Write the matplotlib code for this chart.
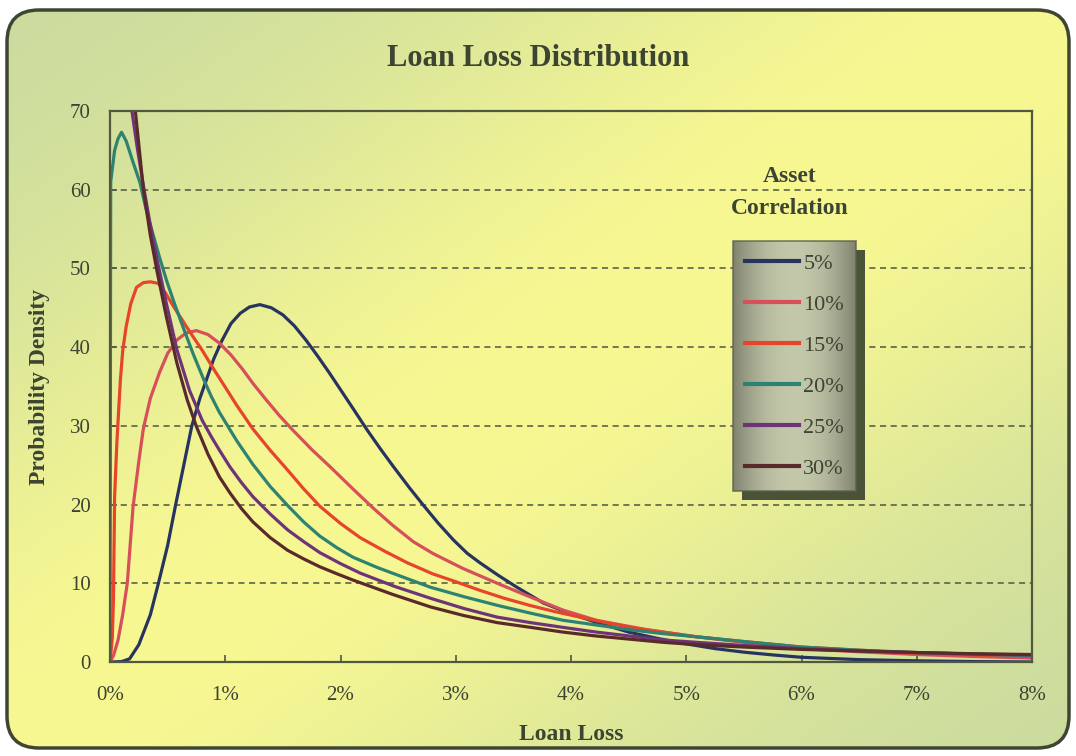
import numpy as np
import matplotlib
matplotlib.use('Agg')
from matplotlib import pyplot as plt
from matplotlib.patches import FancyBboxPatch, Rectangle

plt.rcParams['font.family'] = ['Liberation Serif', 'DejaVu Serif']

# loan loss (%) vs probability density, one curve per asset correlation
x_05 = [0, 0.1, 0.17, 0.25, 0.35, 0.42, 0.5, 0.57, 0.64, 0.71, 0.78, 0.84, 0.9, 0.97, 1.05, 1.13,
        1.21, 1.3, 1.4, 1.5, 1.6, 1.7, 1.8, 1.9, 2.0, 2.1, 2.23, 2.35, 2.46, 2.6, 2.72, 2.85, 2.98,
        3.1, 3.21, 3.37, 3.53, 3.76, 4.0, 4.25, 4.5, 4.75, 5.0, 5.25, 5.5, 5.75, 6.0, 6.5, 7.0, 7.5, 8.0]
y_05 = [0, 0.05, 0.4, 2.2, 6.0, 10, 14.8, 20, 25, 30, 33.5, 36, 38.5, 40.8, 43, 44.3,
        45.1, 45.4, 45.0, 44.1, 42.7, 40.9, 38.9, 36.8, 34.6, 32.4, 29.5, 27.0, 24.8, 22.1, 19.9, 17.6, 15.5,
        13.8, 12.6, 11.0, 9.5, 7.5, 6.1, 4.9, 3.8, 3.0, 2.3, 1.7, 1.25, 0.9, 0.6, 0.3, 0.15, 0.05, 0.0]

x_10 = [0, 0.03, 0.07, 0.11, 0.15, 0.2, 0.25, 0.29, 0.35, 0.43, 0.5, 0.58, 0.66, 0.75, 0.85, 0.95,
        1.05, 1.15, 1.24, 1.35, 1.47, 1.59, 1.75, 1.91, 2.1, 2.28, 2.45, 2.63, 2.8, 3.06, 3.36, 3.64,
        3.93, 4.22, 4.66, 5.09, 5.5, 6.0, 6.5, 7.0, 7.5, 8.0]
y_10 = [0, 0.8, 2.8, 6, 10, 19.7, 25.5, 29.7, 33.5, 36.8, 39.2, 40.9, 41.8, 42.1, 41.6, 40.5,
        39.0, 37.2, 35.4, 33.4, 31.3, 29.4, 27.0, 24.8, 22.1, 19.6, 17.4, 15.3, 13.8, 11.9, 10.0, 8.3,
        6.6, 5.3, 4.1, 3.2, 2.5, 1.7, 1.3, 0.95, 0.7, 0.5]

x_15 = [0, 0.02, 0.03, 0.04, 0.06, 0.09, 0.11, 0.14, 0.18, 0.23, 0.29, 0.35, 0.42, 0.48, 0.55, 0.62,
        0.69, 0.8, 0.9, 0.97, 1.1, 1.24, 1.39, 1.54, 1.68, 1.82, 2.0, 2.17, 2.38, 2.58, 2.8, 3.0,
        3.21, 3.42, 3.64, 3.86, 4.08, 4.3, 4.51, 4.8, 5.09, 5.5, 6.0, 6.5, 7.0, 7.5, 8.0]
y_15 = [0, 3, 8, 21, 28, 35.8, 39.5, 42.6, 45.5, 47.6, 48.2, 48.3, 48.1, 46.9, 45.2, 43.6,
        42.0, 39.6, 37.2, 35.6, 32.6, 29.6, 26.9, 24.4, 22.0, 19.8, 17.6, 15.8, 14.1, 12.6, 11.2, 10.2,
        9.1, 8.1, 7.2, 6.4, 5.7, 5.0, 4.4, 3.8, 3.2, 2.6, 1.9, 1.5, 1.1, 0.9, 0.7]

x_20 = [0, 0.003, 0.006, 0.04, 0.07, 0.1, 0.14, 0.2, 0.26, 0.31, 0.37, 0.43, 0.49, 0.56, 0.63, 0.72,
        0.81, 0.88, 0.95, 1.1, 1.24, 1.39, 1.54, 1.68, 1.82, 1.97, 2.11, 2.32, 2.54, 2.78, 3.07, 3.36,
        3.65, 3.93, 4.22, 4.51, 4.8, 5.09, 5.5, 6.0, 6.5, 7.0, 7.5, 8.0]
y_20 = [0, 30, 61, 65, 66.5, 67.3, 66.2, 63.5, 60.9, 57.7, 54.5, 51.4, 48.5, 45.5, 42.7, 39.2,
        36.0, 33.7, 31.7, 28.1, 25.1, 22.3, 19.9, 17.8, 16.0, 14.5, 13.3, 12.0, 10.8, 9.5, 8.3, 7.2,
        6.2, 5.3, 4.7, 4.1, 3.6, 3.2, 2.6, 1.9, 1.5, 1.2, 1.0, 0.8]

x_25 = [0.12, 0.19, 0.24, 0.29, 0.35, 0.41, 0.49, 0.58, 0.69, 0.8, 0.88, 0.95, 1.04, 1.14, 1.24, 1.39,
        1.54, 1.68, 1.82, 2.0, 2.17, 2.47, 2.78, 3.07, 3.36, 3.65, 3.93, 4.22, 4.51, 4.8, 5.09, 5.5,
        6.0, 6.5, 7.0, 7.5, 8.0]
y_25 = [82, 70, 65, 60.5, 55.5, 51, 45.5, 39.7, 34.5, 30.7, 28.6, 26.9, 24.8, 22.8, 21.0, 18.8,
        16.8, 15.3, 13.9, 12.5, 11.3, 9.6, 8.1, 6.8, 5.7, 5.0, 4.4, 3.8, 3.3, 2.8, 2.5, 2.1,
        1.7, 1.4, 1.2, 1.0, 0.9]

x_30 = [0.15, 0.22, 0.29, 0.35, 0.41, 0.49, 0.58, 0.67, 0.75, 0.85, 0.95, 1.04, 1.14, 1.24, 1.39, 1.54,
        1.68, 1.82, 1.97, 2.11, 2.45, 2.78, 3.07, 3.36, 3.65, 3.93, 4.22, 4.51, 4.8, 5.09, 5.5, 6.0,
        6.5, 7.0, 7.5, 8.0]
y_30 = [80, 70, 60, 54.2, 49.5, 43.8, 38, 33.3, 29.9, 26.4, 23.5, 21.5, 19.5, 17.8, 15.8, 14.2,
        13.1, 12.1, 11.2, 10.4, 8.6, 7.0, 5.9, 5.0, 4.4, 3.8, 3.3, 2.9, 2.5, 2.2, 1.9, 1.6,
        1.4, 1.2, 1.05, 0.95]

labels = ['5%', '10%', '15%', '20%', '25%', '30%']
colors = ['#283460', '#d6505a', '#e6452c', '#2e8272', '#6e3478', '#5a2a2a']
series = [(x_05, y_05), (x_10, y_10), (x_15, y_15), (x_20, y_20), (x_25, y_25), (x_30, y_30)]

x_ticks = [0, 1, 2, 3, 4, 5, 6, 7, 8]
y_ticks = [0, 10, 20, 30, 40, 50, 60, 70]

ink = '#3c4432'
W, H = 1076, 756
fig = plt.figure(figsize=(W / 100, H / 100), dpi=100, facecolor='white')

# rounded card with a green/yellow diagonal wash
bg = fig.add_axes([0, 0, 1, 1], zorder=-10)
bg.set_xlim(0, W)
bg.set_ylim(H, 0)
bg.axis('off')
px, py = np.meshgrid(np.arange(W), np.arange(H))
d = px / W + py / H - 1.0
t = np.exp(-(d / 0.6) ** 2)[..., None]
green = np.array([200, 218, 160]) / 255
yellow = np.array([248, 248, 146]) / 255
img = green + t * (yellow - green)
card = FancyBboxPatch((7, 10), W - 14, H - 18, boxstyle='round,pad=0,rounding_size=32',
                      facecolor='none', edgecolor='#3e4632', lw=2.5, zorder=2)
bg.add_patch(card)
im = bg.imshow(img, extent=(0, W, H, 0), aspect='auto', zorder=1)
im.set_clip_path(card)

ax = fig.add_axes([110 / W, 94 / H, 922 / W, 551 / H])
ax.set_facecolor('none')

for (xs, ys), c, lab in zip(series, colors, labels):
    ax.plot(xs, ys, color=c, lw=2.3, label=lab, solid_joinstyle='round')

ax.set_xlim(0, 8)
ax.set_ylim(0, 70)
ax.set_xticks(x_ticks)
ax.set_xticklabels(['%d%%' % v for v in x_ticks])
ax.set_yticks(y_ticks)
ax.tick_params(direction='in', length=5, width=1.2, color='#505840', labelcolor=ink,
               labelsize=15)
ax.tick_params(axis='x', pad=17)
ax.tick_params(axis='y', pad=14)
for s in ax.spines.values():
    s.set_color('#505840')
    s.set_linewidth(1.6)
ax.grid(axis='y', color='#4e5640', lw=1.1, linestyle=(0, (4, 3)))
ax.set_axisbelow(True)

ax.set_xlabel('Loan Loss', fontsize=17, fontweight='bold', color=ink, labelpad=14)
ax.set_ylabel('Probability Density', fontsize=17, fontweight='bold', color=ink, labelpad=14)
fig.text(0.5, 1 - 58 / H, 'Loan Loss Distribution', fontsize=22, fontweight='bold',
         color=ink, ha='center', va='center')

ax.text(0.7375, 0.852, 'Asset\nCorrelation', transform=ax.transAxes, ha='center',
        va='center', fontsize=17, fontweight='bold', color=ink, linespacing=1.65)

leg = ax.legend(loc='upper left', bbox_to_anchor=(0.676, 0.764), borderaxespad=0,
                fontsize=16, labelspacing=0.92, handlelength=2.4, handletextpad=0.2,
                borderpad=0.55, frameon=True, fancybox=False, labelcolor=ink)
leg.get_frame().set_facecolor('none')
leg.get_frame().set_edgecolor('#5a6048')
leg.get_frame().set_linewidth(1.2)
for h in leg.get_lines():
    h.set_linewidth(3)

# grey wash and drop shadow behind the legend box
fig.canvas.draw()
bb = leg.get_frame().get_window_extent().transformed(ax.transAxes.inverted())
sx = 9 / 922
sy = 9 / 551
ax.add_patch(Rectangle((bb.x0 + sx, bb.y0 - sy), bb.width, bb.height, transform=ax.transAxes,
                       facecolor='#4a5238', edgecolor='none', zorder=4.7))
gx = np.linspace(-1, 1, 200)
shade = 1 - 0.35 * gx ** 2
lg = np.array([196, 200, 170]) / 255
leg_img = np.tile((lg[None, :] * shade[:, None])[None, :, :], (50, 1, 1))
ax.imshow(np.clip(leg_img, 0, 1), extent=(bb.x0, bb.x1, bb.y0, bb.y1), transform=ax.transAxes,
          aspect='auto', zorder=4.8)
ax.set_xlim(0, 8)
ax.set_ylim(0, 70)

fig.savefig('out.png', dpi=100, facecolor='white')
